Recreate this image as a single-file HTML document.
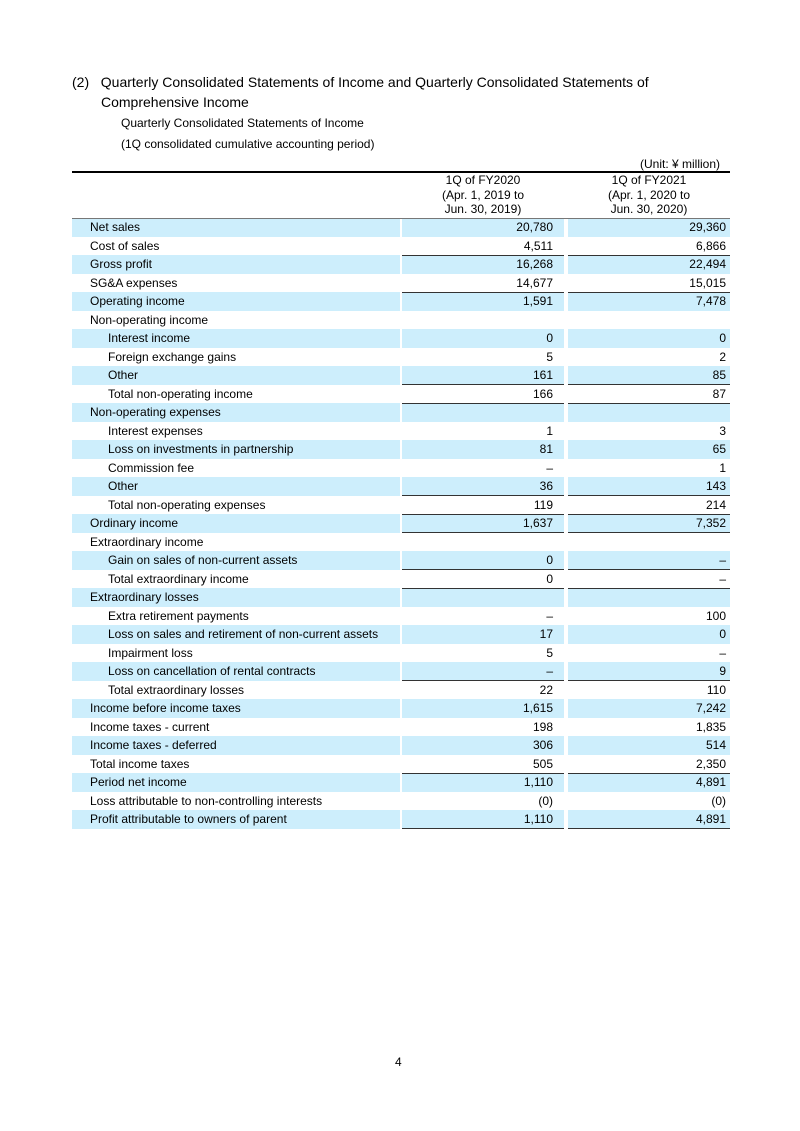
<!DOCTYPE html>
<html><head><meta charset="utf-8"><style>
body{margin:0;width:800px;height:1131px;background:#fff;font-family:"Liberation Sans",sans-serif;color:#000;position:relative;overflow:hidden}
.a{position:absolute;white-space:nowrap}
.r{position:absolute;left:72px;width:658px;height:18.5px;font-size:12px;line-height:18.5px}
.r .b{position:absolute;top:0;height:18.5px}
.l{position:absolute;top:0}
.v1{position:absolute;top:0;right:177px}
.v2{position:absolute;top:0;right:4px}
.ln{position:absolute;height:1px;background:#333}
</style></head><body>
<div class="a" style="left:72px;top:74px;font-size:14px">(2)&nbsp;&nbsp;&nbsp;Quarterly Consolidated Statements of Income and Quarterly Consolidated Statements of</div>
<div class="a" style="left:101px;top:94px;font-size:14px">Comprehensive Income</div>
<div class="a" style="left:121px;top:116px;font-size:12px">Quarterly Consolidated Statements of Income</div>
<div class="a" style="left:121px;top:137px;font-size:12px">(1Q consolidated cumulative accounting period)</div>
<div class="a" style="left:640px;top:157px;font-size:12px">(Unit: ¥ million)</div>
<div class="a" style="left:72px;top:171px;width:658px;height:2px;background:#000"></div>
<div class="a" style="left:402px;top:173px;width:162px;text-align:center;font-size:12px;line-height:14.5px">1Q of FY2020<br>(Apr. 1, 2019 to<br>Jun. 30, 2019)</div>
<div class="a" style="left:568px;top:173px;width:162px;text-align:center;font-size:12px;line-height:14.5px">1Q of FY2021<br>(Apr. 1, 2020 to<br>Jun. 30, 2020)</div>
<div id="t"></div>
<div class="a" style="left:395px;top:1055px;font-size:12px">4</div>
<script>
var rows=[["Net sales",0,"20,780","29,360"],["Cost of sales",0,"4,511","6,866"],["Gross profit",0,"16,268","22,494"],["SG&amp;A expenses",0,"14,677","15,015"],["Operating income",0,"1,591","7,478"],["Non-operating income",0,"",""],["Interest income",1,"0","0"],["Foreign exchange gains",1,"5","2"],["Other",1,"161","85"],["Total non-operating income",1,"166","87"],["Non-operating expenses",0,"",""],["Interest expenses",1,"1","3"],["Loss on investments in partnership",1,"81","65"],["Commission fee",1,"–","1"],["Other",1,"36","143"],["Total non-operating expenses",1,"119","214"],["Ordinary income",0,"1,637","7,352"],["Extraordinary income",0,"",""],["Gain on sales of non-current assets",1,"0","–"],["Total extraordinary income",1,"0","–"],["Extraordinary losses",0,"",""],["Extra retirement payments",1,"–","100"],["Loss on sales and retirement of non-current assets",1,"17","0"],["Impairment loss",1,"5","–"],["Loss on cancellation of rental contracts",1,"–","9"],["Total extraordinary losses",1,"22","110"],["Income before income taxes",0,"1,615","7,242"],["Income taxes - current",0,"198","1,835"],["Income taxes - deferred",0,"306","514"],["Total income taxes",0,"505","2,350"],["Period net income",0,"1,110","4,891"],["Loss attributable to non-controlling interests",0,"(0)","(0)"],["Profit attributable to owners of parent",0,"1,110","4,891"]];
var lines=[0,2,4,9,10,15,16,17,19,20,25,30,33];
var h="";
rows.forEach(function(r,i){var top=218+i*18.5;h+='<div class="r" style="top:'+top+'px">';
if(i%2==0){h+='<div class="b" style="left:0;width:328px;background:#cdeefc"></div><div class="b" style="left:330px;width:162px;background:#cdeefc"></div><div class="b" style="left:496px;width:162px;background:#cdeefc"></div>';}
h+='<span class="l" style="left:'+(r[1]?36:18)+'px">'+r[0]+'</span><span class="v1">'+r[2]+'</span><span class="v2">'+(r[3].charAt(0)=="("?r[3]:r[3])+'</span></div>';});
lines.forEach(function(i){var y=218+i*18.5-0.5;if(i==0)h+='<div class="ln" style="top:'+y+'px;left:72px;width:658px;background:#777"></div>';else h+='<div class="ln" style="top:'+y+'px;left:402px;width:162px"></div><div class="ln" style="top:'+y+'px;left:568px;width:162px"></div>';});
document.getElementById("t").innerHTML=h;
</script>
</body></html>
